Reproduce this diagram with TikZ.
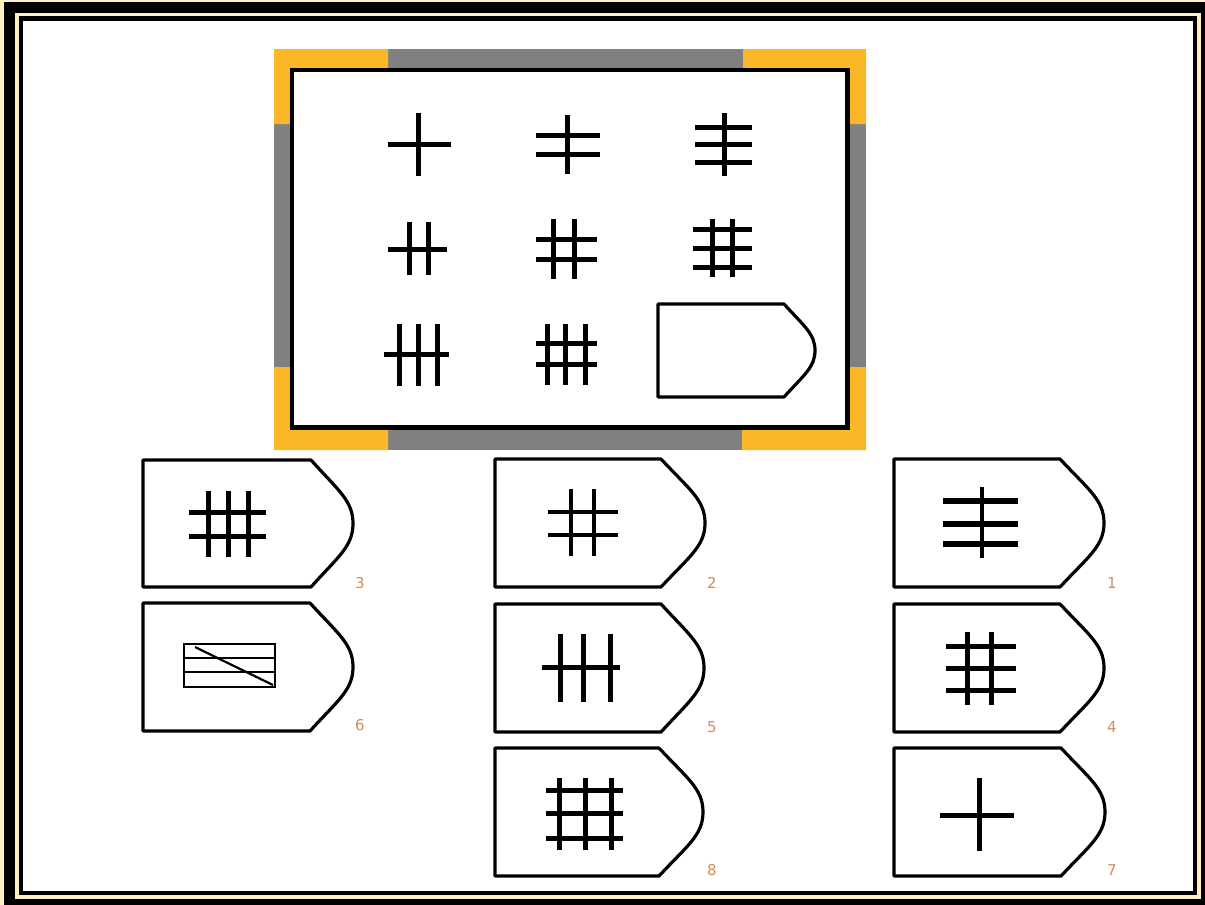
\documentclass[tikz,border=0pt]{standalone}
\usepackage{fontspec}
\newfontfamily\labfont{DejaVu Sans}
\definecolor{cream}{RGB}{255,240,195}
\definecolor{frameorange}{RGB}{250,184,40}
\definecolor{framegray}{RGB}{128,128,128}
\definecolor{labcol}{RGB}{214,140,90}
\newcommand\tagcard[5]{%
  \draw[cardline] (#1,#2) -- ({#1+#3},#2)
    .. controls ({#1+#3+0.65*(#4-#3)},{#2+0.24*#5}) and ({#1+#4},{#2+0.32*#5}) .. ({#1+#4},{#2+0.5*#5})
    .. controls ({#1+#4},{#2+0.68*#5}) and ({#1+#3+0.65*(#4-#3)},{#2+0.76*#5}) .. ({#1+#3},{#2+#5})
    -- (#1,{#2+#5}) -- cycle;}
\begin{document}
\begin{tikzpicture}[x=1pt,y=-1pt,
  bar/.style={line width=5pt},
  thinbar/.style={line width=3.2pt},
  cardline/.style={line width=3.2pt, line join=round},
  lab/.style={font=\labfont\fontsize{15}{15}\selectfont, text=labcol, inner sep=0pt}]
\useasboundingbox (0,0) rectangle (1205,905);
% outer border
\fill[cream] (0,0) rectangle (1205,905);
\fill[black] (4,2) rectangle (1205,905);
\draw[cream, line width=3.5pt] (17,14.5) rectangle (1199,897);
\fill[white] (23,21) rectangle (1193,891);
% question frame
\fill[framegray] (274,49) rectangle (866,450);
\fill[frameorange] (274,49) -- (388,49) -- (388,68) -- (290,68) -- (290,124) -- (274,124) -- cycle;
\fill[frameorange] (866,49) -- (743,49) -- (743,68) -- (850,68) -- (850,124) -- (866,124) -- cycle;
\fill[frameorange] (274,450) -- (388,450) -- (388,430) -- (290,430) -- (290,367) -- (274,367) -- cycle;
\fill[frameorange] (866,450) -- (742,450) -- (742,430) -- (850,430) -- (850,367) -- (866,367) -- cycle;
\fill[white] (290,68) rectangle (850,430);
\draw[line width=4.5pt] (292,70) rectangle (847.5,427.5);
% row 1
\draw[bar] (388,144) -- (451,144);
\draw[bar] (418,113) -- (418,176);
\draw[bar] (536,135) -- (600,135);
\draw[bar] (536,154) -- (600,154);
\draw[bar] (567,115) -- (567,174);
\draw[bar] (695,127) -- (752,127);
\draw[bar] (695,144) -- (752,144);
\draw[bar] (695,162) -- (752,162);
\draw[bar] (724,113) -- (724,176);
% row 2
\draw[bar] (409,222) -- (409,275);
\draw[bar] (428,222) -- (428,275);
\draw[bar] (388,249) -- (447,249);
\draw[bar] (553,219) -- (553,279);
\draw[bar] (574,219) -- (574,279);
\draw[bar] (536,239) -- (597,239);
\draw[bar] (536,259) -- (597,259);
\draw[bar] (712,219) -- (712,277);
\draw[bar] (732,219) -- (732,277);
\draw[bar] (693,229) -- (752,229);
\draw[bar] (693,248) -- (752,248);
\draw[bar] (693,267) -- (752,267);
% row 3
\draw[bar] (399,324) -- (399,386);
\draw[bar] (418,324) -- (418,386);
\draw[bar] (437,324) -- (437,386);
\draw[bar] (384,354) -- (449,354);
\draw[bar] (547,324) -- (547,385);
\draw[bar] (565,324) -- (565,385);
\draw[bar] (585,324) -- (585,385);
\draw[bar] (536,343) -- (597,343);
\draw[bar] (536,364) -- (597,364);
% question card
\tagcard{658}{304}{126}{157}{93}
% answer cards
\tagcard{143}{460}{168}{210}{127}
\tagcard{143}{603}{167}{210}{128}
\tagcard{495}{459}{166}{210}{128}
\tagcard{495}{604}{166}{209}{128}
\tagcard{495}{748}{164}{208}{128}
\tagcard{894}{459}{166}{210}{128}
\tagcard{894}{604}{166}{210}{128}
\tagcard{894}{748}{167}{211}{128}
% card 3
\draw[bar] (208,491) -- (208,557);
\draw[bar] (228,491) -- (228,557);
\draw[bar] (248,491) -- (248,557);
\draw[bar] (189,512) -- (266,512);
\draw[bar] (189,536) -- (266,536);
% card 6
\draw[line width=2.4pt] (184,644) rectangle (275,687);
\draw[line width=2.2pt] (184,658) -- (275,658);
\draw[line width=2.2pt] (184,672) -- (275,672);
\draw[line width=2.2pt] (195,647) -- (273,685);
% card 2
\draw[thinbar] (571,489) -- (571,556);
\draw[thinbar] (594,489) -- (594,556);
\draw[thinbar] (548,512) -- (618,512);
\draw[thinbar] (548,535) -- (618,535);
% card 5
\draw[bar] (560,634) -- (560,702);
\draw[bar] (583,634) -- (583,702);
\draw[bar] (610,634) -- (610,702);
\draw[bar] (542,667) -- (620,667);
% card 8
\draw[bar] (559,778) -- (559,850);
\draw[bar] (585,778) -- (585,850);
\draw[bar] (611,778) -- (611,850);
\draw[bar] (546,790) -- (623,790);
\draw[bar] (546,813) -- (623,813);
\draw[bar] (546,838) -- (623,838);
% card 1
\draw[line width=5.5pt] (943,501) -- (1018,501);
\draw[line width=5.5pt] (943,524) -- (1018,524);
\draw[line width=5.5pt] (943,544) -- (1018,544);
\draw[thinbar] (982,487) -- (982,558);
% card 4
\draw[bar] (967,632) -- (967,705);
\draw[bar] (991,632) -- (991,705);
\draw[bar] (946,646) -- (1016,646);
\draw[bar] (946,668) -- (1016,668);
\draw[bar] (946,690) -- (1016,690);
% card 7
\draw[bar] (940,815) -- (1014,815);
\draw[bar] (979,778) -- (979,851);
% labels
\node[lab] (l3) at (360,583) {3};
\node[lab] (l6) at (360,725) {6};
\node[lab] (l2) at (712,583) {2};
\node[lab] (l5) at (712,727) {5};
\node[lab] (l8) at (712,870) {8};
\node[lab] (l1) at (1112,583) {1};
\node[lab] (l4) at (1112,727) {4};
\node[lab] (l7) at (1112,870) {7};
\end{tikzpicture}
\end{document}
